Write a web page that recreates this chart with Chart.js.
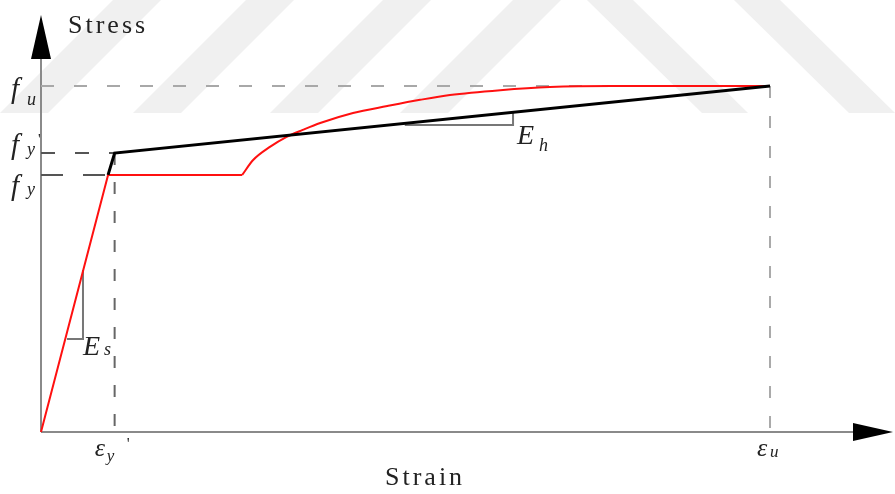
<!DOCTYPE html>
<html>
<head>
<meta charset="utf-8">
<script src="https://cdn.jsdelivr.net/npm/chart.js@4.4.0/dist/chart.umd.min.js"></script>
<style>
  html, body { margin: 0; padding: 0; background: #fff; }
  #wrap { width: 895px; height: 494px; }
</style>
</head>
<body>
<div id="wrap"><canvas id="stressChart"></canvas></div>
<script>
// strain scaled so eps_u = 1, stress scaled so f_u = 1
// red curve: elastic + plateau part, then the hardening curve
const redLinStrain = [0, 0.092, 0.276];
const redLinStress = [0, 0.743, 0.743];
const redCurveStrain = [0.276, 0.291, 0.314, 0.337, 0.359, 0.383, 0.428, 0.475, 0.520, 0.561, 0.630, 0.698, 0.783, 1.0];
const redCurveStress = [0.743, 0.786, 0.824, 0.853, 0.873, 0.893, 0.922, 0.942, 0.960, 0.974, 0.988, 0.997, 1.0, 1.0];

const blackStrain = [0.092, 0.101, 1.0];
const blackStress = [0.743, 0.806, 1.0];

const fu = 1.0;
const fyPrime = 0.806;
const fy = 0.743;
const epsYPrime = 0.101;
const epsU = 1.0;

// tick labels: [main, subscript, prime]
const yTickValues = [fu, fyPrime, fy];
const yTickLabels = [['f', 'u', ''], ['f', 'y', '\''], ['f', 'y', '']];
const xTickValues = [epsYPrime, epsU];
const xTickLabels = [['\u03b5', 'y', '\''], ['\u03b5', 'u', '']];

// slope triangles
const esStrain = [0.0357, 0.0576, 0.0576];
const esStress = [0.269, 0.269, 0.468];
const ehStrain = [0.499, 0.6475, 0.6475];
const ehStress = [0.887, 0.887, 0.924];

const pts = (xs, ys) => xs.map((x, i) => ({ x: x, y: ys[i] }));

const serif = "'Liberation Serif', 'Times New Roman', serif";
const axisColor = '#8a8a8a';

// text offsets (px) for the y tick labels: [main baseline, sub baseline]
const yLabelDy = [[12, 19], [1, 2], [20, 20]];
const xLabelDx = [-20, -13];

function mathText(ctx, x, y, main, sub, subDx, subDy, mainSize, subSize) {
  ctx.font = 'italic ' + mainSize + 'px ' + serif;
  ctx.fillText(main, x, y);
  ctx.font = 'italic ' + subSize + 'px ' + serif;
  ctx.fillText(sub, x + subDx, y + subDy);
}

const decor = {
  id: 'decor',
  beforeDraw(chart) {
    const ctx = chart.ctx;
    ctx.save();
    ctx.fillStyle = '#fff';
    ctx.fillRect(0, 0, chart.width, chart.height);
    // faint watermark bands
    ctx.fillStyle = '#f0f0f0';
    const up = [0, 133, 270, 400];
    up.forEach(b => {
      ctx.beginPath();
      ctx.moveTo(b, 113); ctx.lineTo(b + 48, 113);
      ctx.lineTo(b + 48 + 113, 0); ctx.lineTo(b + 113, 0);
      ctx.closePath(); ctx.fill();
    });
    const down = [587, 734];
    down.forEach(b => {
      ctx.beginPath();
      ctx.moveTo(b, 0); ctx.lineTo(b + 46, 0);
      ctx.lineTo(b + 46 + 115, 113); ctx.lineTo(b + 115, 113);
      ctx.closePath(); ctx.fill();
    });
    ctx.restore();
  },
  beforeDatasetsDraw(chart) {
    const ctx = chart.ctx;
    const xs = chart.scales.x, ys = chart.scales.y;
    const x0 = xs.getPixelForValue(0), y0 = ys.getPixelForValue(0);
    ctx.save();
    ctx.strokeStyle = axisColor;
    ctx.lineWidth = 2;
    ctx.beginPath();
    ctx.moveTo(x0, y0); ctx.lineTo(x0, ys.top + 43);
    ctx.moveTo(x0, y0); ctx.lineTo(xs.right - 40, y0);
    ctx.stroke();
    ctx.restore();
  },
  afterDatasetsDraw(chart) {
    const ctx = chart.ctx;
    const xs = chart.scales.x, ys = chart.scales.y;
    const x0 = xs.getPixelForValue(0), y0 = ys.getPixelForValue(0);
    ctx.save();
    // arrow heads
    ctx.fillStyle = '#000';
    ctx.beginPath();
    ctx.moveTo(x0, ys.top); ctx.lineTo(x0 + 10, ys.top + 44); ctx.lineTo(x0 - 10, ys.top + 44);
    ctx.closePath(); ctx.fill();
    ctx.beginPath();
    ctx.moveTo(xs.right, y0); ctx.lineTo(xs.right - 40, y0 - 9); ctx.lineTo(xs.right - 40, y0 + 9);
    ctx.closePath(); ctx.fill();

    ctx.fillStyle = '#222';
    ctx.textAlign = 'left';
    ctx.textBaseline = 'alphabetic';
    ctx.letterSpacing = '3px';
    ctx.font = '26px ' + serif;
    ctx.fillText('Stress', x0 + 27, 33);
    ctx.fillText('Strain', 385, 485);
    ctx.letterSpacing = '0px';

    // y tick labels
    yTickValues.forEach((v, i) => {
      const py = ys.getPixelForValue(v);
      const lab = yTickLabels[i];
      ctx.font = 'italic 29px ' + serif;
      ctx.fillText(lab[0], x0 - 30, py + yLabelDy[i][0]);
      ctx.font = 'italic 18px ' + serif;
      ctx.fillText(lab[1], x0 - 14, py + yLabelDy[i][1]);
      if (lab[2]) {
        ctx.font = '15px ' + serif;
        ctx.fillText(lab[2], x0 - 3, py - 9);
      }
    });

    // x tick labels
    xTickValues.forEach((v, i) => {
      const px = xs.getPixelForValue(v);
      const lab = xTickLabels[i];
      const lx = px + xLabelDx[i];
      ctx.font = 'italic 26px ' + serif;
      ctx.fillText(lab[0], lx, y0 + 24);
      ctx.font = 'italic 17px ' + serif;
      ctx.fillText(lab[1], lx + (i === 0 ? 12 : 13), y0 + (i === 0 ? 29 : 25));
      if (lab[2]) {
        ctx.font = '16px ' + serif;
        ctx.fillText(lab[2], px + 12, y0 + 17);
      }
    });

    // slope labels
    const es = { x: xs.getPixelForValue(esStrain[1]), y: ys.getPixelForValue(esStress[1]) };
    mathText(ctx, es.x, es.y + 16, 'E', 's', 21, 0, 28, 18);
    const eh = { x: xs.getPixelForValue(ehStrain[1]), y: ys.getPixelForValue(ehStress[1]) };
    mathText(ctx, eh.x + 4, eh.y + 19, 'E', 'h', 22, 7, 28, 18);
    ctx.restore();
  }
};

const dashed = (data, color, dash) => ({
  data: data,
  showLine: true,
  borderColor: color,
  borderWidth: 2,
  borderDash: dash,
  pointRadius: 0,
  fill: false,
  order: 5
});

new Chart(document.getElementById('stressChart'), {
  type: 'scatter',
  data: {
    datasets: [
      {
        data: pts(redLinStrain, redLinStress),
        showLine: true,
        borderColor: '#ff1010',
        borderWidth: 2,
        pointRadius: 0,
        tension: 0,
        order: 1
      },
      {
        data: pts(redCurveStrain, redCurveStress),
        showLine: true,
        borderColor: '#ff1010',
        borderWidth: 2,
        pointRadius: 0,
        cubicInterpolationMode: 'monotone',
        order: 1
      },
      {
        data: pts(blackStrain, blackStress),
        showLine: true,
        borderColor: '#000',
        borderWidth: 3,
        pointRadius: 0,
        order: 0
      },
      dashed([{ x: 0, y: fu }, { x: epsU, y: fu }], '#a8a8a8', [13, 20]),
      dashed([{ x: 0, y: fyPrime }, { x: epsYPrime, y: fyPrime }], '#555', [14, 20]),
      dashed([{ x: 0, y: fy }, { x: blackStrain[0], y: fy }], '#555', [22, 20]),
      dashed([{ x: epsYPrime, y: fyPrime }, { x: epsYPrime, y: 0 }], '#666', [12, 17]),
      dashed([{ x: epsU, y: fu }, { x: epsU, y: 0 }], '#aaa', [12, 18]),
      dashed(pts(esStrain, esStress), '#777', []),
      dashed(pts(ehStrain, ehStress), '#777', [])
    ]
  },
  options: {
    responsive: true,
    maintainAspectRatio: false,
    animation: false,
    clip: false,
    layout: { padding: { left: 41, right: 2, top: 15, bottom: 62 } },
    scales: {
      x: { type: 'linear', min: 0, max: 1.1687, display: false },
      y: { type: 'linear', min: 0, max: 1.2052, display: false }
    },
    plugins: {
      legend: { display: false },
      tooltip: { enabled: false }
    }
  },
  plugins: [decor]
});
</script>
</body>
</html>
